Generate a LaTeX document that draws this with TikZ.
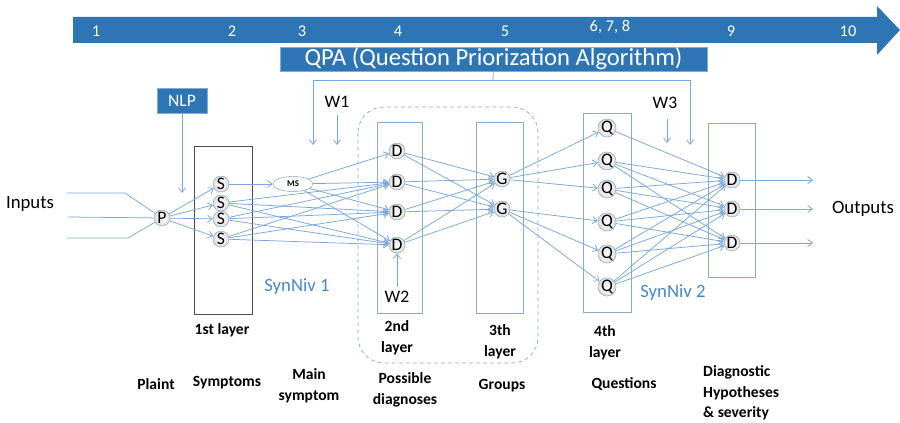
\documentclass[tikz,border=0pt]{standalone}
\usepackage{fontspec}
\setmainfont{Carlito}
\usetikzlibrary{arrows.meta,shapes.geometric}
\definecolor{barblue}{RGB}{46,117,182}
\definecolor{linkblue}{RGB}{120,168,220}
\definecolor{boxblue}{RGB}{135,172,212}
\definecolor{labelblue}{RGB}{70,135,200}
\begin{document}
\begin{tikzpicture}[x=0.03cm,y=-0.03cm,
    wire/.style={linkblue,line width=0.65pt},
    link/.style={wire,-{Straight Barb[length=4pt,width=6pt]}},
    neuron/.style={circle,draw=boxblue!70!gray,inner color=white,outer color=gray!25,
      inner sep=0pt,minimum size=0.48cm,font=\fontsize{15}{15}\selectfont},
    layerbox/.style={draw=boxblue,line width=0.6pt},
    bar/.style={fill=barblue,draw=barblue!60!white,text=white},
    caption/.style={font=\bfseries\fontsize{13.3}{18}\selectfont,align=center},
  ]
\useasboundingbox (0,0) rectangle (900,423);

% time line on top
\fill[barblue] (73,17) -- (877,17) -- (877,6) -- (900,30) -- (877,55) -- (877,43) -- (73,43) -- cycle;
\foreach \x/\t in {96/1,232/2,302/3,398/4,505/5,731/9,848/10}
  \node[text=white,font=\fontsize{14}{14}\selectfont] at (\x,31) {\t};
\node[text=white,font=\fontsize{14}{14}\selectfont] at (610,27) {6, 7, 8};

\node[bar,minimum width=12.81cm,minimum height=0.72cm,font=\fontsize{21}{21}\selectfont,inner sep=0pt]
  (qpa) at (493.5,59) {QPA (Question Priorization Algorithm)};
\node[bar,minimum width=1.5cm,minimum height=0.75cm,font=\fontsize{15}{15}\selectfont]
  (nlp) at (182,101) {NLP};

% layer boxes
\draw[draw=black!70,line width=0.6pt] (194,146) rectangle (252,314);
\draw[layerbox] (377,122) rectangle (422,313);
\draw[layerbox] (476,122) rectangle (523,313);
\draw[layerbox] (583,113) rectangle (631,312);
\draw[layerbox] (708,123) rectangle (755,277);
\draw[linkblue,dashed,line width=0.6pt,rounded corners=22pt] (358,107) rectangle (538,363);

% neurons
\node[neuron] (P) at (162,218) {P};
\foreach \i/\y in {1/184,2/203,3/219,4/239}
  \node[neuron] (S\i) at (221,\y) {S};
\node[ellipse,draw=boxblue!70!gray,fill=white,minimum width=1.2cm,minimum height=0.45cm,
  inner sep=0pt,font=\bfseries\fontsize{7.5}{7.5}\selectfont] (MS) at (293,184) {MS};
\foreach \i/\y in {1/151,2/182,3/212,4/245}
  \node[neuron] (D\i) at (397,\y) {D};
\foreach \i/\y in {1/179,2/209}
  \node[neuron] (G\i) at (502,\y) {G};
\foreach \i/\y in {1/128,2/161,3/189,4/222,5/254,6/287}
  \node[neuron] (Q\i) at (607,\y) {Q};
\foreach \i/\y in {1/180,2/209,3/243}
  \node[neuron] (H\i) at (732,\y) {D};

% inputs and outputs
\node[font=\fontsize{16}{16}\selectfont] (inputs) at (30,204) {Inputs};
\node[font=\fontsize{16}{16}\selectfont] (outputs) at (863,209) {Outputs};
\coordinate (in1) at (67,193);
\coordinate (in2) at (68,217);
\coordinate (in3) at (67,238);
\draw[wire] (in1) -- (125,193) -- (P);
\draw[wire] (in2) -- (P);
\draw[wire] (in3) -- (128,238) -- (P);
\foreach \i/\y in {1/180,2/209,3/243}{
  \coordinate (out\i) at (813,\y);
  \draw[link] (H\i) -- (out\i);
}

% weights and control lines
\node[font=\fontsize{15}{15}\selectfont] (W1) at (337,102) {W1};
\node[font=\fontsize{15}{15}\selectfont] (W2) at (397,297) {W2};
\node[font=\fontsize{15}{15}\selectfont] (W3) at (665,103) {W3};
\coordinate (w1end) at (337,145);
\coordinate (w3end) at (667,143);
\draw[link] (W1.south) ++(0,3) -- (w1end);
\draw[link] (W3.south) ++(2,6) -- (w3end);
\draw[link] (W2.north) -- (D4);
\coordinate (nlpend) at (182,193);
\draw[link] (nlp) -- (nlpend);
\coordinate (qpajoin) at (493,80);
\coordinate (qpaL) at (313,145);
\coordinate (qpaR) at (690,145);
\draw[wire] (qpa) -- (qpajoin);
\draw[link] (qpajoin) -| (qpaL);
\draw[link] (qpajoin) -| (qpaR);

% connections
\foreach \i in {1,...,4}
  \draw[link] (P) -- (S\i);
\draw[link] (S1) -- (MS);
\foreach \j in {1,...,4}
  \draw[link] (MS) -- (D\j);
\foreach \i in {2,3,4}
  \foreach \j in {2,3,4}
    \draw[link] (S\i) -- (D\j);
\foreach \i in {1,...,4}
  \foreach \j in {1,2}
    \draw[link] (D\i) -- (G\j);
\foreach \j in {1,2,3}
  \draw[link] (G1) -- (Q\j);
\foreach \j in {4,5,6}
  \draw[link] (G2) -- (Q\j);
\draw[link] (Q1) -- (H1);
\foreach \i in {2,...,6}
  \foreach \j in {1,2,3}
    \draw[link] (Q\i) -- (H\j);

% level names
\node[text=labelblue,font=\fontsize{16}{16}\selectfont] (syn1) at (297,287) {SynNiv 1};
\node[text=labelblue,font=\fontsize{16}{16}\selectfont] (syn2) at (673,293) {SynNiv 2};

% captions
\node[caption] (lay1) at (222,330) {1st layer};
\node[caption] (lay2) at (397,338) {2nd\\layer};
\node[caption] (lay3) at (500,342) {3th\\layer};
\node[caption] (lay4) at (605,343) {4th\\layer};
\node[caption] (plaint) at (156,384) {Plaint};
\node[caption] (symptoms) at (227,383) {Symptoms};
\node[caption] (mainsym) at (309,386) {Main\\symptom};
\node[caption] (possible) at (405,390) {Possible\\diagnoses};
\node[caption] (groups) at (502,386) {Groups};
\node[caption] (questions) at (624,384) {Questions};
\node[caption,align=left,anchor=west,inner sep=0pt,font=\bfseries\fontsize{13.3}{17.5}\selectfont]
  (hypo) at (703,393) {Diagnostic\\Hypotheses\\\& severity};
\end{tikzpicture}
\end{document}
